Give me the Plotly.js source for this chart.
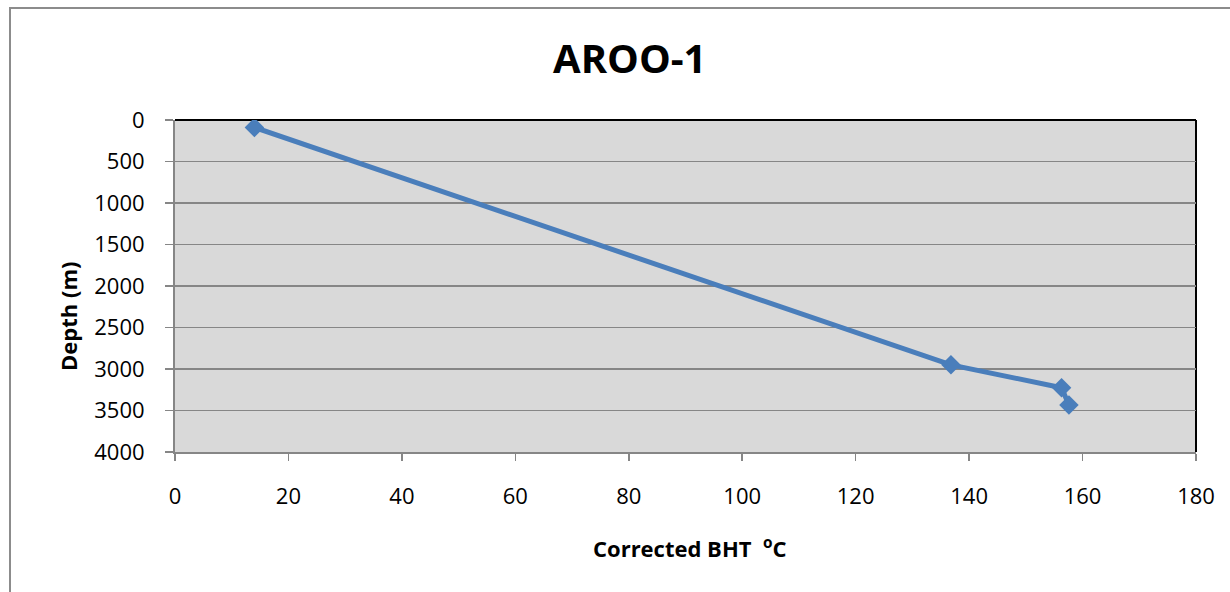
<!DOCTYPE html>
<html>
<head>
<meta charset="utf-8">
<script src="https://cdn.plot.ly/plotly-3.0.1.min.js"></script>
<style>
  html, body { margin: 0; padding: 0; background: #ffffff; }
  #wrap { position: relative; width: 1230px; height: 592px; overflow: hidden; }
  #frame { position: absolute; left: 9px; top: 7px; width: 1400px; height: 800px;
           border-left: 2px solid #8c8c8c; border-top: 2px solid #8c8c8c; box-sizing: border-box; pointer-events: none; }
  #chart { position: absolute; left: 0; top: 0; width: 1230px; height: 592px; }
</style>
</head>
<body>
<div id="wrap">
  <div id="chart"></div>
  <div id="frame"></div>
</div>
<script>
// Corrected bottom-hole temperatures against depth, well AROO-1
const temperatureC = [14, 136.8, 156.3, 157.6];
const depthM = [90, 2950, 3225, 3435];

const chartTitle = 'AROO-1';
const xTitle = 'Corrected BHT  <sup>o</sup>C';
const yTitle = 'Depth (m)';

const tickFont = { family: '"Open Sans", "Liberation Sans", sans-serif', size: 22, color: '#000000' };
const boldFont = { family: '"Open Sans", "Liberation Sans", sans-serif', size: 22, color: '#000000', weight: 700 };

const trace = {
  x: temperatureC,
  y: depthM,
  type: 'scatter',
  mode: 'lines+markers',
  line: { color: '#4a7ebb', width: 5 },
  marker: { symbol: 'diamond', size: 15, color: '#4a7ebb' },
  hoverinfo: 'x+y'
};

const layout = {
  width: 1230,
  height: 592,
  margin: { l: 175, r: 34, t: 120, b: 140 },
  paper_bgcolor: 'rgba(0,0,0,0)',
  plot_bgcolor: '#d9d9d9',
  showlegend: false,
  title: {
    text: '<b>' + chartTitle + '</b>',
    font: { family: '"Open Sans", "Liberation Sans", sans-serif', size: 40, color: '#000000' },
    xref: 'container', x: 0.512, xanchor: 'center',
    yref: 'container', y: 1 - 59 / 592, yanchor: 'middle'
  },
  xaxis: {
    range: [0, 180],
    dtick: 20,
    tick0: 0,
    showgrid: false,
    zeroline: false,
    showline: true,
    linecolor: '#868686',
    linewidth: 2,
    ticks: 'outside',
    ticklen: 7,
    tickwidth: 1.5,
    tickcolor: '#868686',
    tickfont: tickFont,
    ticklabelstandoff: 17,
    fixedrange: true
  },
  yaxis: {
    range: [4000, 0],
    dtick: 500,
    tick0: 0,
    showgrid: true,
    gridcolor: '#868686',
    gridwidth: 1.5,
    zeroline: false,
    showline: true,
    linecolor: '#868686',
    linewidth: 2,
    ticks: 'outside',
    ticklen: 8,
    tickwidth: 1.5,
    tickcolor: '#868686',
    tickfont: tickFont,
    ticklabelstandoff: 16,
    fixedrange: true
  },
  shapes: [
    { type: 'line', xref: 'paper', yref: 'paper', x0: 0, x1: 1, y0: 1, y1: 1,
      line: { color: '#000000', width: 2 }, layer: 'between' },
    { type: 'line', xref: 'paper', yref: 'paper', x0: 1, x1: 1, y0: 0, y1: 1,
      line: { color: '#000000', width: 2 }, layer: 'between' }
  ],
  annotations: [
    { text: '<b>' + xTitle + '</b>', xref: 'paper', yref: 'paper',
      x: (689 - 175) / 1021, y: (452 - 547) / 332, xanchor: 'center', yanchor: 'middle',
      showarrow: false, font: boldFont },
    { text: '<b>' + yTitle + '</b>', xref: 'paper', yref: 'paper',
      x: (68 - 175) / 1021, y: (452 - 317) / 332, xanchor: 'center', yanchor: 'middle',
      textangle: -90, showarrow: false, font: boldFont }
  ]
};

Plotly.newPlot('chart', [trace], layout, { displayModeBar: false, staticPlot: true });
</script>
</body>
</html>
